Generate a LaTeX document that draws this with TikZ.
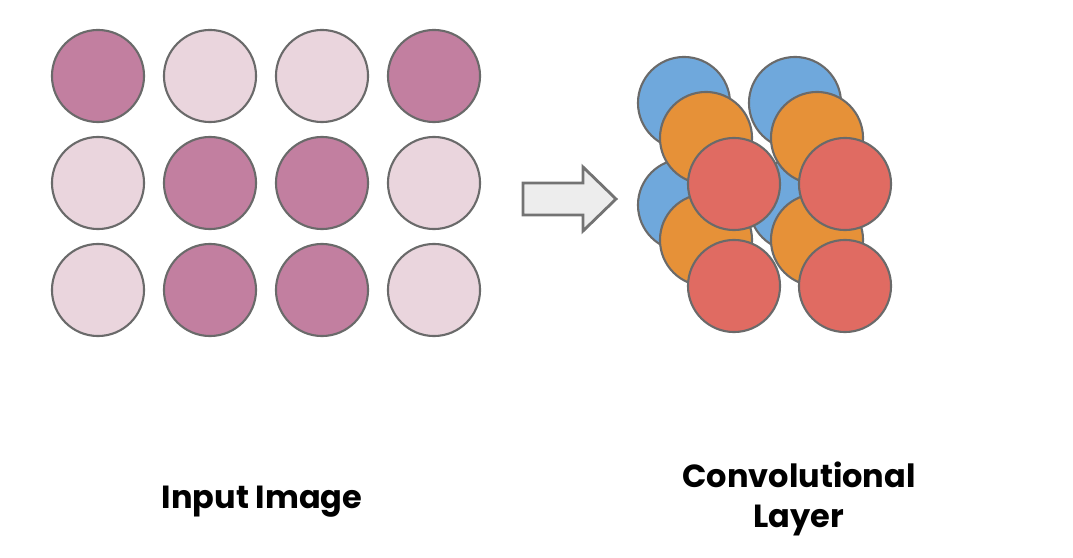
\documentclass[tikz,border=0pt]{standalone}
\usepackage{fontspec}
\setmainfont{Poppins}
\usetikzlibrary{positioning}
\definecolor{pixdark}{HTML}{C27FA0}
\definecolor{pixlight}{HTML}{EAD5DD}
\definecolor{fmblue}{HTML}{6FA8DC}
\definecolor{fmorange}{HTML}{E69138}
\definecolor{fmred}{HTML}{E06B62}
\definecolor{rimgray}{HTML}{6A6A6A}
\tikzset{
  pix/.style={circle,draw=rimgray,line width=0.6pt,minimum size=0.92cm,inner sep=0pt},
  dk/.style={pix,fill=pixdark},
  lt/.style={pix,fill=pixlight},
  fmap/.style={circle,draw=rimgray,line width=0.6pt,minimum size=0.92cm,inner sep=0pt},
  caption/.style={font=\fontsize{9.1}{11.6}\selectfont\bfseries,align=center},
  flowarr/.style={fill=black!7,draw=black!55,line width=0.8pt,line join=miter},
}

\begin{document}
\begin{tikzpicture}[x=0.01cm,y=-0.01cm]
  \useasboundingbox (0,0) rectangle (1073,558);
  % input image: 3x4 pixels
  \foreach \c/\r/\s in {1/1/dk,2/1/lt,3/1/lt,4/1/dk,
                        1/2/lt,2/2/dk,3/2/dk,4/2/lt,
                        1/3/lt,2/3/dk,3/3/dk,4/3/lt}{
    \node[\s] (in-\r-\c) at ({98+112*(\c-1)},{76+107*(\r-1)}) {};}
  % arrow
  \draw[flowarr] (523,183) -- (583,183) -- (583,167) -- (616,199)
    -- (583,231) -- (583,215) -- (523,215) -- cycle;
  % convolutional layer: three stacked maps, 2x2 each
  \foreach \m/\col/\dx/\dy in {blue/fmblue/0/0,orange/fmorange/22/35,red/fmred/50/81}{
    \foreach \i in {0,1}{
      \foreach \j in {0,1}{
        \node[fmap,fill=\col] (\m-\j-\i) at ({684+\dx+111*\i},{103+\dy+102*\j}) {};}}}
  % captions
  \node[caption] (lbl-in) at (262,502) {Input Image};
  \node[caption] (lbl-conv) at (799,499) {Convolutional\\Layer};
\end{tikzpicture}
\end{document}
